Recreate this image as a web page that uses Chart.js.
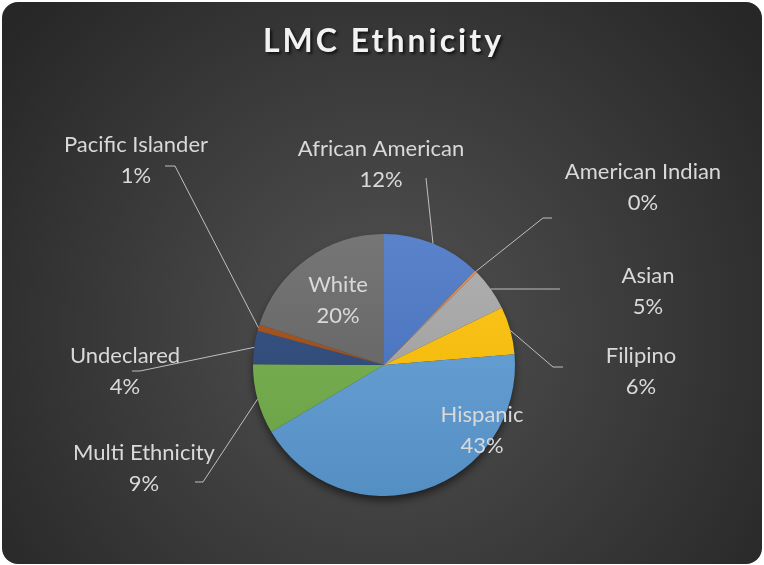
<!DOCTYPE html>
<html>
<head>
<meta charset="utf-8">
<script src="https://cdn.jsdelivr.net/npm/chart.js@4/dist/chart.umd.min.js"></script>
<style>
  html, body { margin: 0; padding: 0; background: #fff; }
</style>
</head>
<body>
<canvas id="ethnicity" width="764" height="565"></canvas>
<script>
const categories = ['African American', 'American Indian', 'Asian', 'Filipino', 'Hispanic', 'Multi Ethnicity', 'Undeclared', 'Pacific Islander', 'White']
const shares = [12.2, 0.3, 5.3, 5.9, 42.8, 8.6, 4.1, 0.8, 20.0]
const sliceColors = ['#4472C4', '#ED7D31', '#A5A5A5', '#FFC000', '#5B9BD5', '#70AD47', '#264478', '#9E480E', '#636363']

// text centre of each data label, and the points its leader line runs through after leaving the slice
const labelSpots = [
  { x: 381, y: 164, leader: [[426, 178]] },
  { x: 643, y: 187, leader: [[543, 218], [552, 218]] },
  { x: 648, y: 291, leader: [[560, 289]] },
  { x: 641, y: 371, leader: [[553, 367], [563, 367]] },
  { x: 482, y: 430, leader: null },
  { x: 144, y: 468, leader: [[203, 482], [195, 482]] },
  { x: 125, y: 371, leader: [[140, 371], [132, 371]] },
  { x: 136, y: 160, leader: [[175, 166], [165, 166]] },
  { x: 338, y: 300, leader: null }
]

function shade(hex, amt) {
  let r = parseInt(hex.slice(1, 3), 16)
  let g = parseInt(hex.slice(3, 5), 16)
  let b = parseInt(hex.slice(5, 7), 16)
  const t = amt > 0 ? 255 : 0
  const a = Math.abs(amt)
  r = Math.round(r + (t - r) * a)
  g = Math.round(g + (t - g) * a)
  b = Math.round(b + (t - b) * a)
  return `rgb(${r}, ${g}, ${b})`
}

const chartBackground = {
  id: 'chartBackground',
  beforeDraw(chart) {
    const ctx = chart.ctx
    const w = chart.width
    const h = chart.height
    ctx.save()
    const g = ctx.createRadialGradient(w / 2, h * 0.58, 0, w / 2, h * 0.58, w * 0.62)
    g.addColorStop(0, '#525252')
    g.addColorStop(1, '#272727')
    ctx.fillStyle = g
    ctx.beginPath()
    ctx.roundRect(2, 2, w - 4, h - 3, 16)
    ctx.fill()

    // soft shadow under the pie
    const arc = chart.getDatasetMeta(0).data[0]
    ctx.shadowColor = 'rgba(0, 0, 0, 0.6)'
    ctx.shadowBlur = 10
    ctx.shadowOffsetY = 5
    ctx.fillStyle = '#3a3a3a'
    ctx.beginPath()
    ctx.arc(arc.x, arc.y, arc.outerRadius - 1, 0, Math.PI * 2)
    ctx.fill()
    ctx.restore()
  }
}

const dataLabels = {
  id: 'dataLabels',
  afterDatasetsDraw(chart) {
    const ctx = chart.ctx
    const meta = chart.getDatasetMeta(0)
    const total = shares.reduce((a, b) => a + b, 0)
    ctx.save()
    meta.data.forEach((arc, i) => {
      const spot = labelSpots[i]
      if (spot.leader) {
        const mid = (arc.startAngle + arc.endAngle) / 2
        ctx.beginPath()
        ctx.moveTo(arc.x + Math.cos(mid) * arc.outerRadius, arc.y + Math.sin(mid) * arc.outerRadius)
        spot.leader.forEach(p => ctx.lineTo(p[0], p[1]))
        ctx.strokeStyle = '#bfbfbf'
        ctx.lineWidth = 1
        ctx.stroke()
      }
      ctx.fillStyle = '#d9d9d9'
      ctx.font = '22px Lato'
      ctx.textAlign = 'center'
      ctx.textBaseline = 'middle'
      ctx.fillText(categories[i], spot.x, spot.y - 15.5)
      ctx.fillText(Math.round(shares[i] / total * 100) + '%', spot.x, spot.y + 15.5)
    })

    // title
    ctx.font = 'bold 32px Lato'
    ctx.letterSpacing = '3px'
    ctx.fillStyle = '#f2f2f2'
    ctx.shadowColor = 'rgba(0, 0, 0, 0.7)'
    ctx.shadowBlur = 3
    ctx.shadowOffsetX = 2
    ctx.shadowOffsetY = 2
    ctx.fillText('LMC Ethnicity', chart.width / 2 + 1.5, 42)
    ctx.restore()
  }
}

const ethnicityChart = new Chart(document.getElementById('ethnicity').getContext('2d'), {
  type: 'pie',
  data: {
    labels: categories,
    datasets: [
      {
        data: shares,
        backgroundColor: function (context) {
          const base = sliceColors[context.dataIndex]
          const area = context.chart.chartArea
          if (!area) return base
          const g = context.chart.ctx.createLinearGradient(0, area.top, 0, area.bottom)
          g.addColorStop(0, shade(base, 0.12))
          g.addColorStop(1, shade(base, -0.08))
          return g
        },
        borderWidth: 0
      }
    ]
  },
  options: {
    responsive: false,
    animation: false,
    layout: {
      padding: { left: 253, right: 249, top: 234, bottom: 69 }
    },
    plugins: {
      legend: { display: false },
      tooltip: { enabled: false }
    }
  },
  plugins: [chartBackground, dataLabels]
})
</script>
</body>
</html>
